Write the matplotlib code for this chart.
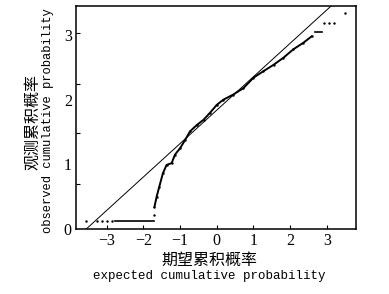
import matplotlib
matplotlib.use("Agg")
import matplotlib.pyplot as plt

# expected (x) vs observed (y) values
curve_x = [-1.70, -1.64, -1.57, -1.47, -1.37, -1.23, -1.14, -1.00, -0.86, -0.73,
           -0.54, -0.36, -0.18, 0.00, 0.18, 0.45, 0.73, 1.00, 1.27, 1.55,
           1.82, 2.09, 2.36, 2.59]
curve_y = [0.34, 0.50, 0.65, 0.86, 0.99, 1.02, 1.15, 1.25, 1.38, 1.51,
           1.61, 1.69, 1.80, 1.92, 2.00, 2.08, 2.18, 2.34, 2.44, 2.54,
           2.65, 2.78, 2.88, 2.98]

flat_low_x = [-2.78, -1.72]
flat_low_y = [0.125, 0.125]
flat_high_x = [2.68, 2.86]
flat_high_y = [3.04, 3.04]

dots_x = [-3.56, -3.27, -3.14, -3.00, -2.87, -1.71, 2.93, 3.06, 3.20, 3.50]
dots_y = [0.125, 0.125, 0.125, 0.125, 0.125, 0.21, 3.18, 3.18, 3.18, 3.34]

# reference line
ref_x = [-3.56, 3.12]
ref_y = [0.0, 3.45]

xticks = [-3, -2, -1, 0, 1, 2, 3]
xtick_labels = ["\u22123", "\u22122", "\u22121", "0", "1", "2", "3"]
yticks = [0, 1, 2, 3]
ytick_marks = [0.70, 1.48, 2.24, 3.03]

fig = plt.figure(figsize=(3.89, 2.94), dpi=100)
ax = fig.add_axes([0.1954, 0.2211, 0.7198, 0.7585])

ax.plot(ref_x, ref_y, color="black", lw=0.7)
ax.plot(curve_x, curve_y, color="black", lw=1.4, marker=".", ms=1.5)
ax.plot(flat_low_x, flat_low_y, color="black", lw=1.2)
ax.plot(flat_high_x, flat_high_y, color="black", lw=1.2)
ax.plot(dots_x, dots_y, ls="none", marker="s", ms=0.7, color="black")

ax.set_xlim(-3.84, 3.80)
ax.set_ylim(0, 3.45)

for s in ax.spines.values():
    s.set_linewidth(1.1)

ax.set_xticks(xticks)
ax.set_xticklabels(xtick_labels, family="Liberation Serif", fontsize=11.5)
ax.tick_params(axis="x", direction="in", length=3, width=0.8, pad=3)

ax.set_yticks(yticks)
ax.set_yticklabels([str(v) for v in yticks], family="Liberation Serif", fontsize=11.5)
ax.set_yticks(ytick_marks, minor=True)
ax.tick_params(axis="y", which="major", length=0, pad=3)
ax.tick_params(axis="y", which="minor", direction="in", length=3, width=0.8)

fig.text(0.538, 0.116, "期望累积概率", family=["Noto Sans CJK SC", "DejaVu Sans"],
         fontsize=11.5, ha="center", va="center")
fig.text(0.538, 0.062, "expected cumulative probability", family="Liberation Mono",
         fontsize=9, ha="center", va="center")
fig.text(0.083, 0.585, "观测累积概率", family=["Noto Sans CJK SC", "DejaVu Sans"],
         fontsize=11.5, ha="center", va="center", rotation=90)
fig.text(0.123, 0.59, "observed cumulative probability", family="Liberation Mono",
         fontsize=8.7, ha="center", va="center", rotation=90)

fig.savefig("out.png", dpi=100)
